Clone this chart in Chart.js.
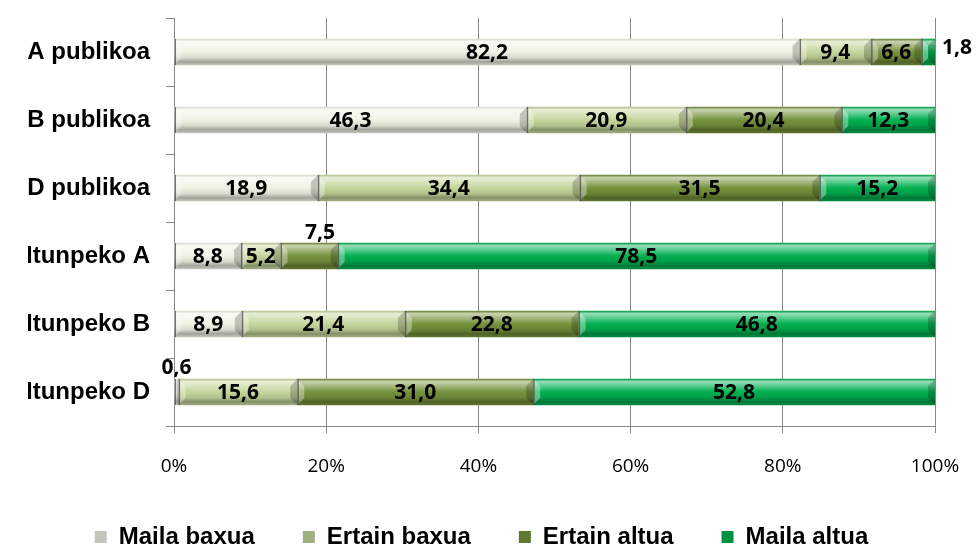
<!DOCTYPE html>
<html lang="eu">
<head>
<meta charset="UTF-8">
<script src="https://cdn.jsdelivr.net/npm/chart.js"></script>
<title>Mailak</title>
<style>
  html, body { margin: 0; padding: 0; background: #fff; }
</style>
</head>
<body>
<canvas id="barChart" width="977" height="546"></canvas>
<script>
    // datuak
    var categories = ['A publikoa', 'B publikoa', 'D publikoa', 'Itunpeko A', 'Itunpeko B', 'Itunpeko D'];
    var seriesNames = ['Maila baxua', 'Ertain baxua', 'Ertain altua', 'Maila altua'];
    var mailaBaxua  = [82.2, 46.3, 18.9, 8.8, 8.9, 0.6];
    var ertainBaxua = [9.4, 20.9, 34.4, 5.2, 21.4, 15.6];
    var ertainAltua = [6.6, 20.4, 31.5, 7.5, 22.8, 31.0];
    var mailaAltua  = [1.8, 12.3, 15.2, 78.5, 46.8, 52.8];
    var xTickValues = [0, 20, 40, 60, 80, 100];

    var seriesValues = [mailaBaxua, ertainBaxua, ertainAltua, mailaAltua];
    var seriesColors = ['#f0f2e4', '#c3d69b', '#76923c', '#00b050'];
    var BAR_H = 26;

    // label positions for the few small segments (dataset-index)
    var labelPlacement = {
        '3-0': { dx: 7, dy: -4, align: 'left' },
        '2-3': { dx: 11, dy: -23, align: 'center' },
        '0-5': { dx: 0, dy: -24, align: 'center' }
    };

    // 100% stacked: each row is scaled to its own total
    var rowTotals = categories.map(function (c, i) {
        return seriesValues.reduce(function (s, arr) { return s + arr[i]; }, 0);
    });

    function mix(hex, target, t) {
        var n = parseInt(hex.slice(1), 16);
        var r = n >> 16, g = (n >> 8) & 255, b = n & 255;
        r = Math.round(r + (target - r) * t);
        g = Math.round(g + (target - g) * t);
        b = Math.round(b + (target - b) * t);
        return 'rgb(' + r + ',' + g + ',' + b + ')';
    }

    function barFill(color) {
        return function (ctx) {
            if (ctx.type !== 'data') return color;
            var y = ctx.chart.scales.y;
            var c = y ? y.getPixelForValue(ctx.dataIndex) : null;
            if (c == null || isNaN(c)) return color;
            var h = BAR_H / 2;
            var g = ctx.chart.ctx.createLinearGradient(0, c - h, 0, c + h);
            g.addColorStop(0, mix(color, 0, 0.1));
            g.addColorStop(0.1, mix(color, 255, 0.6));
            g.addColorStop(0.5, color);
            g.addColorStop(0.72, mix(color, 0, 0.1));
            g.addColorStop(0.88, mix(color, 0, 0.33));
            g.addColorStop(1, mix(color, 0, 0.18));
            return g;
        };
    }

    var datasets = seriesNames.map(function (name, k) {
        return {
            label: name,
            data: seriesValues[k].map(function (v, i) { return v / rowTotals[i] * 100; }),
            rawValues: seriesValues[k],
            backgroundColor: barFill(seriesColors[k]),
            borderWidth: 0,
            barThickness: BAR_H
        };
    });

    // bevel ends + value labels
    var bevelLabels = {
        id: 'bevelLabels',
        afterDatasetsDraw: function (chart) {
            var ctx = chart.ctx;
            ctx.save();
            chart.data.datasets.forEach(function (ds, k) {
                var meta = chart.getDatasetMeta(k);
                meta.data.forEach(function (el, i) {
                    var x0 = Math.min(el.base, el.x), x1 = Math.max(el.base, el.x);
                    var top = el.y - el.height / 2, bot = el.y + el.height / 2;
                    var b = Math.min(7, (x1 - x0) / 2);
                    ctx.fillStyle = 'rgba(255,255,255,0.35)';
                    ctx.beginPath();
                    ctx.moveTo(x0, top); ctx.lineTo(x0 + b, top + b);
                    ctx.lineTo(x0 + b, bot - b); ctx.lineTo(x0, bot);
                    ctx.closePath(); ctx.fill();
                    ctx.fillStyle = 'rgba(0,0,0,0.2)';
                    ctx.beginPath();
                    ctx.moveTo(x1, top); ctx.lineTo(x1 - b, top + b);
                    ctx.lineTo(x1 - b, bot - b); ctx.lineTo(x1, bot);
                    ctx.closePath(); ctx.fill();
                    ctx.strokeStyle = 'rgba(60,60,60,0.7)';
                    ctx.lineWidth = 1.5;
                    ctx.beginPath();
                    ctx.moveTo(x0 + 0.75, top); ctx.lineTo(x0 + 0.75, bot);
                    ctx.stroke();
                });
            });
            ctx.font = 'bold 21px "Open Sans"';
            ctx.fillStyle = '#000';
            ctx.textBaseline = 'middle';
            chart.data.datasets.forEach(function (ds, k) {
                var meta = chart.getDatasetMeta(k);
                meta.data.forEach(function (el, i) {
                    var txt = ds.rawValues[i].toFixed(1).replace('.', ',');
                    var p = labelPlacement[k + '-' + i];
                    if (p && p.align === 'left') {
                        ctx.textAlign = 'left';
                        ctx.fillText(txt, el.x + p.dx, el.y + p.dy);
                    } else {
                        ctx.textAlign = 'center';
                        var cx = (el.x + el.base) / 2;
                        ctx.fillText(txt, cx + (p ? p.dx : 0), el.y + (p ? p.dy : 1));
                    }
                });
            });
            ctx.restore();
        }
    };

    new Chart(document.getElementById('barChart').getContext('2d'), {
        type: 'bar',
        data: { labels: categories, datasets: datasets },
        plugins: [bevelLabels],
        options: {
            indexAxis: 'y',
            responsive: false,
            animation: false,
            devicePixelRatio: 1,
            layout: { padding: { top: 18, right: 42, left: 28, bottom: 0 } },
            scales: {
                x: {
                    stacked: true,
                    min: 0,
                    max: 100,
                    afterBuildTicks: function (scale) {
                        scale.ticks = xTickValues.map(function (v) { return { value: v }; });
                    },
                    afterFit: function (scale) {
                        scale.height = 51;
                        scale.paddingLeft = 0;
                        scale.paddingRight = 0;
                    },
                    grid: { color: '#888', tickLength: 7, lineWidth: 1 },
                    border: { color: '#888' },
                    ticks: {
                        color: '#000',
                        padding: 22,
                        font: { family: '"Open Sans"', size: 19 },
                        callback: function (v) { return v + '%'; }
                    }
                },
                y: {
                    stacked: true,
                    afterFit: function (scale) {
                        scale.width = 146;
                        scale.paddingTop = 0;
                        scale.paddingBottom = 0;
                    },
                    grid: { drawOnChartArea: false, color: '#888', tickLength: 8 },
                    border: { color: '#888' },
                    ticks: {
                        color: '#000',
                        padding: 16,
                        font: { family: '"Liberation Sans", Arial', size: 24, weight: 'bold' }
                    }
                }
            },
            plugins: {
                legend: {
                    position: 'bottom',
                    maxHeight: 69,
                    labels: {
                        color: '#000',
                        boxWidth: 12,
                        boxHeight: 12,
                        padding: 48,
                        font: { family: '"Liberation Sans", Arial', size: 24, weight: 'bold' }
                    }
                },
                tooltip: { enabled: false }
            }
        }
    });
</script>
</body>
</html>
